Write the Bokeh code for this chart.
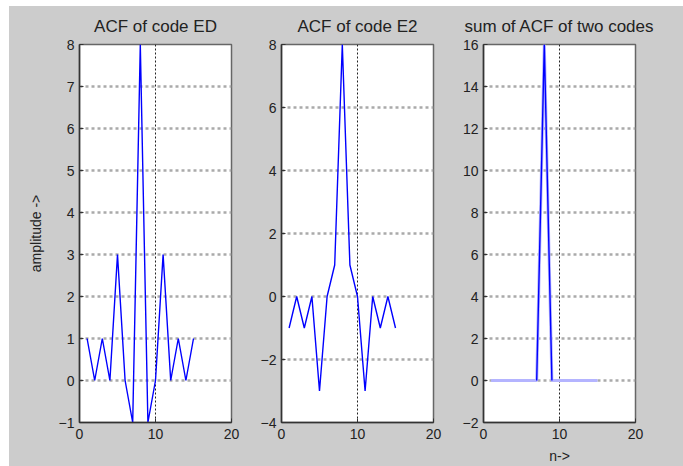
from bokeh.plotting import figure
from bokeh.layouts import row, column
from bokeh.models import FixedTicker, Range1d, Spacer, LinearAxis
from bokeh.embed import file_html
from bokeh.resources import INLINE

n = list(range(1, 16))
acf_ed = [1, 0, 1, 0, 3, 0, -1, 8, -1, 0, 3, 0, 1, 0, 1]
acf_e2 = [-1, 0, -1, 0, -3, 0, 1, 8, 1, 0, -3, 0, -1, 0, -1]
acf_sum = [0, 0, 0, 0, 0, 0, 0, 16, 0, 0, 0, 0, 0, 0, 0]

titles = ["ACF of code ED", "ACF of code E2", "sum of ACF of two codes"]
y_limits = [(-1, 8), (-4, 8), (-2, 16)]
y_ticks = [list(range(-1, 9)), list(range(-4, 9, 2)), list(range(-2, 17, 2))]
x_ticks = [0, 10, 20]

BG = "#cccccc"
FONT = "Liberation Sans"
H = 460

def make(i, width, left, right, ylabel=None, xlabel=None):
    p = figure(width=width, height=H, output_backend="svg", toolbar_location=None,
               x_range=Range1d(0, 20), y_range=Range1d(*y_limits[i]),
               min_border_left=left, min_border_right=right,
               min_border_top=38, min_border_bottom=43,
               background_fill_color="white", border_fill_color=BG)
    xax = p.xaxis[0]
    yax = p.yaxis[0]
    p.outline_line_color = "#666666"
    p.outline_line_width = 1.5
    for ax in (xax, yax):
        ax.major_label_text_font = FONT
        ax.major_label_text_font_size = "14px"
        ax.major_label_text_color = "#222222"
        ax.axis_line_color = "#333333"
        ax.axis_line_width = 1.5
        ax.major_tick_in = 4
        ax.major_tick_out = 0
        ax.major_tick_line_color = "#333333"
        ax.minor_tick_line_color = None
        ax.axis_label_text_font = FONT
        ax.axis_label_text_font_size = "14px"
        ax.axis_label_text_font_style = "normal"
        ax.axis_label_text_color = "#222222"
    xax.ticker = FixedTicker(ticks=x_ticks)
    yax.ticker = FixedTicker(ticks=y_ticks[i])
    xax.major_label_standoff = 6
    yax.major_label_standoff = 5
    if ylabel:
        yax.axis_label = ylabel
        yax.axis_label_standoff = 12
    if xlabel:
        xax.axis_label = xlabel
        xax.axis_label_standoff = 6
    p.xgrid.grid_line_color = "#222222"
    p.xgrid.grid_line_dash = "2 2"
    p.xgrid.grid_line_width = 1
    p.ygrid.grid_line_color = "#aaaaaa"
    p.ygrid.grid_line_dash = "3 3"
    p.ygrid.grid_line_width = 2.5
    # title drawn as the label of a tick-less axis above the frame
    top = LinearAxis(axis_label=titles[i], ticker=FixedTicker(ticks=[]),
                     axis_line_color=None, major_tick_line_color=None,
                     minor_tick_line_color=None, major_label_text_font_size="0px",
                     major_tick_in=0, major_tick_out=0, minor_tick_in=0, minor_tick_out=0,
                     axis_label_standoff=9, axis_label_text_font=FONT,
                     axis_label_text_font_size="17px", axis_label_text_font_style="normal",
                     axis_label_text_color="#222222")
    p.add_layout(top, "above")
    return p

p1 = make(0, 247, 70, 25, ylabel="amplitude ->")
p1.line(n, acf_ed, line_color="#0000ff", line_width=1.4)

p2 = make(1, 200, 25, 23)
p2.line(n, acf_e2, line_color="#0000ff", line_width=1.4)

p3 = make(2, 227, 27, 48, xlabel="n->")
p3.line(n, acf_sum, line_color="#b4b4ff", line_width=3)
p3.line(n[6:9], acf_sum[6:9], line_color="#0000ff", line_width=1.4)

figs = row(Spacer(width=9, height=H, styles={"background-color": "white"}), p1, p2, p3,
           spacing=0, styles={"background-color": BG})
layout = column(Spacer(width=683, height=6), figs, spacing=0)
open("out.html", "w").write(file_html(layout, INLINE))
